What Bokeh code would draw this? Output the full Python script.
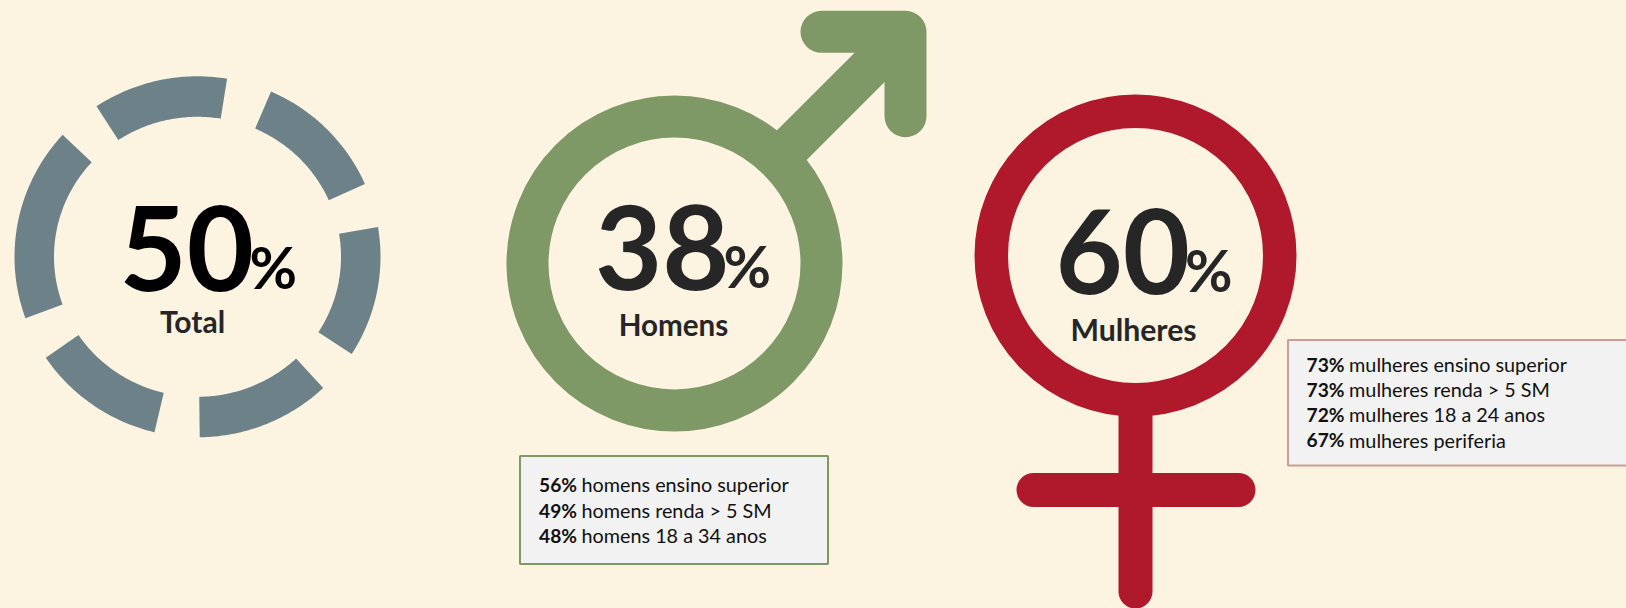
import numpy as np
from bokeh.plotting import figure
from bokeh.models import Range1d, GlobalInlineStyleSheet
from bokeh.core.properties import value
from bokeh.embed import file_html
from bokeh.resources import INLINE

# ---- content -------------------------------------------------------
total_pct = "50"
total_label = "Total"
men_pct = "38"
men_label = "Homens"
women_pct = "60"
women_label = "Mulheres"
percent_sign = "%"

# ring segments of the "Total" donut, degrees (start, end)
segment_start = [80.7, 23.8, -32.6, -89.3, 214.0, 137.5]
segment_end = [123.5, 66.3, 9.5, -46.6, 256.4, 199.9]

men_bold = ["56%", "49%", "48%"]
men_text = ["homens ensino superior", "homens renda > 5 SM", "homens 18 a 34 anos"]
women_bold = ["73%", "73%", "72%", "67%"]
women_text = ["mulheres ensino superior", "mulheres renda > 5 SM", "mulheres 18 a 24 anos", "mulheres periferia"]

# ---- style ---------------------------------------------------------
W, H = 1626, 608
BG = "#FDF3E1"
SLATE = "#6D8288"
GREEN = "#7E9966"
RED = "#B0182C"
DARK = "#262626"
FONT = "Lato"
BASE_SHIFT = 0.37


def Y(py):
    return H - py


p = figure(width=W, height=H, x_range=Range1d(0, W), y_range=Range1d(0, H),
           output_backend="svg", toolbar_location=None, min_border=0,
           background_fill_color=BG, border_fill_color=BG, outline_line_color=None)
p.axis.visible = False
p.grid.visible = False
p.stylesheets = [GlobalInlineStyleSheet(css=f"html,body{{margin:0;padding:0;background:{BG};overflow:hidden}}")]


def txt(x, py, s, size, color=DARK, bold=True, align="left"):
    p.text([x], [Y(py - BASE_SHIFT * size)], text=[s], text_font=value(FONT), text_font_size=value(f"{size}px"),
           text_font_style="bold" if bold else "normal", text_color=color,
           text_align=align, text_baseline="alphabetic")


# ---- total donut ---------------------------------------------------
xs, ys = [], []
for a0, a1 in zip(segment_start, segment_end):
    t = np.radians(np.linspace(a0, a1, 60))
    xs.append(np.concatenate([197 + 183 * np.cos(t), 197 + 143.5 * np.cos(t[::-1])]).tolist())
    ys.append(np.concatenate([Y(256.3) + 180.5 * np.sin(t), Y(256.3) + 140 * np.sin(t[::-1])]).tolist())
p.patches(xs, ys, fill_color=SLATE, line_color=None)
txt(119, 291, total_pct, 116, "#000000")
txt(249, 287, percent_sign, 58, "#000000")
txt(192, 332, total_label, 30, align="center")

# ---- male symbol ---------------------------------------------------
p.line([770, 898], [Y(166), Y(38)], line_color=GREEN, line_width=42)
p.line([821, 905, 905], [Y(31.3), Y(31.3), Y(115.7)], line_color=GREEN, line_width=42,
       line_cap="round", line_join="round")
p.ellipse([674], [Y(263)], width=294, height=294, fill_color=None, line_color=GREEN, line_width=42)
txt(594.5, 290, men_pct, 116)
txt(723, 286, percent_sign, 58)
txt(673, 335, men_label, 29.6, align="center")

# ---- female symbol -------------------------------------------------
p.line([1135, 1135], [Y(400), Y(591)], line_color=RED, line_width=34, line_cap="round")
p.line([1033, 1238], [Y(489.5), Y(489.5)], line_color=RED, line_width=34, line_cap="round")
p.ellipse([1135], [Y(255)], width=288.5, height=288.5, fill_color=None, line_color=RED, line_width=33.5)
txt(1055, 294, women_pct, 116)
txt(1184.5, 290, percent_sign, 58)
txt(1133, 340, women_label, 30.2, align="center")

# ---- boxes ---------------------------------------------------------
p.quad(left=[519.5], right=[827.5], top=[Y(455.5)], bottom=[Y(563.5)], fill_color="#F2F2F2",
       line_color=GREEN, line_width=2)
for bold, rest, py in zip(men_bold, men_text, [491.2, 517, 542.3]):
    txt(538.6, py, bold, 19.2, "#111111")
    txt(581, py, rest, 19.8, "#111111", bold=False)

p.quad(left=[1287.5], right=[1640], top=[Y(339.5)], bottom=[Y(465)], fill_color="#F2F2F2",
       line_color="#CC9C97", line_width=2)
for bold, rest, py in zip(women_bold, women_text, [370.7, 396.2, 421, 446.5]):
    txt(1306, py, bold, 19.2, "#111111")
    txt(1348.6, py, rest, 19.8, "#111111", bold=False)

open("out.html", "w").write(file_html(p, INLINE))
